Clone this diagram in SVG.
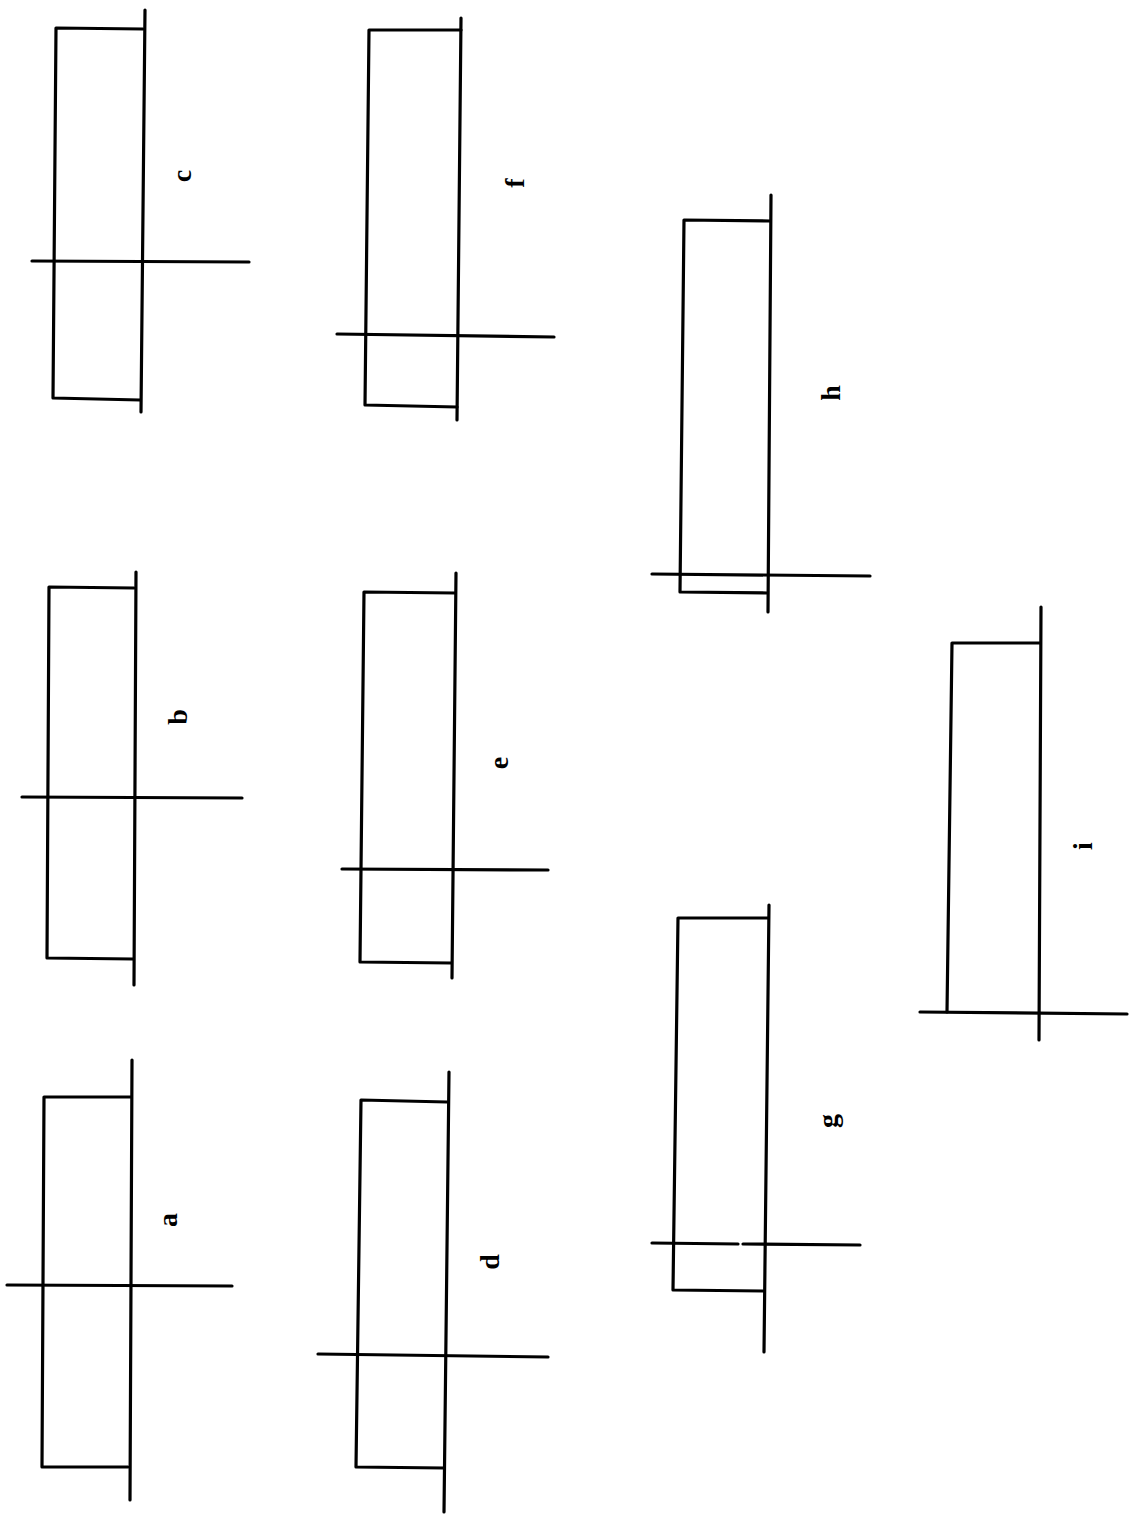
<svg xmlns="http://www.w3.org/2000/svg" width="1130" height="1517" viewBox="0 0 1130 1517">
<style>
.p{fill:none;stroke:#000;stroke-width:3.2;stroke-linejoin:round;stroke-linecap:round}
.l{font-family:"Liberation Serif",serif;font-weight:bold;font-size:28px;fill:#000;text-anchor:middle;dominant-baseline:central}
</style>
<rect width="1130" height="1517" fill="#fff"/>
<g id="a">
<polyline class="p" points="131,1097 44,1097 42,1467 128,1467"/>
<line class="p" x1="132" y1="1060" x2="130" y2="1500"/>
<line class="p" x1="7" y1="1285" x2="232" y2="1286"/>
<text class="l" transform="rotate(-90 167 1220)" x="167" y="1220">a</text>
</g>
<g id="b">
<polyline class="p" points="134,588 49,587 47,958 133,959"/>
<line class="p" x1="136" y1="572" x2="134" y2="985"/>
<line class="p" x1="22" y1="797" x2="242" y2="798"/>
<text class="l" transform="rotate(-90 177 717)" x="177" y="717">b</text>
</g>
<g id="c">
<polyline class="p" points="143,29 56,28 53,398 140,400"/>
<line class="p" x1="145" y1="10" x2="141" y2="412"/>
<line class="p" x1="32" y1="261" x2="249" y2="262"/>
<text class="l" transform="rotate(-90 181 176)" x="181" y="176">c</text>
</g>
<g id="d">
<polyline class="p" points="447,1102 361,1100 356,1467 444,1468"/>
<line class="p" x1="449" y1="1072" x2="444" y2="1512"/>
<line class="p" x1="318" y1="1354" x2="548" y2="1357"/>
<text class="l" transform="rotate(-90 489 1262)" x="489" y="1262">d</text>
</g>
<g id="e">
<polyline class="p" points="455,593 364,592 360,962 451,963"/>
<line class="p" x1="456" y1="573" x2="452" y2="978"/>
<line class="p" x1="342" y1="869" x2="548" y2="870"/>
<text class="l" transform="rotate(-90 498 763)" x="498" y="763">e</text>
</g>
<g id="f">
<polyline class="p" points="461,30 369,30 365,405 457,407"/>
<line class="p" x1="461" y1="18" x2="457" y2="420"/>
<line class="p" x1="337" y1="334" x2="554" y2="337"/>
<text class="l" transform="rotate(-90 514 183)" x="514" y="183">f</text>
</g>
<g id="g">
<polyline class="p" points="768,918 678,918 673,1290 763,1291"/>
<line class="p" x1="769" y1="905" x2="764" y2="1352"/>
<line class="p" x1="652" y1="1243" x2="738" y2="1244"/>
<line class="p" x1="743" y1="1244" x2="860" y2="1245"/>
<text class="l" transform="rotate(-90 827 1121)" x="827" y="1121">g</text>
</g>
<g id="h">
<polyline class="p" points="770,221 684,220 680,592 767,593"/>
<line class="p" x1="771" y1="195" x2="768" y2="612"/>
<line class="p" x1="652" y1="574" x2="870" y2="576"/>
<text class="l" transform="rotate(-90 830 393)" x="830" y="393">h</text>
</g>
<g id="i">
<polyline class="p" points="1040,643 952,643 947,1012"/>
<line class="p" x1="1041" y1="607" x2="1039" y2="1040"/>
<line class="p" x1="920" y1="1012" x2="1127" y2="1014"/>
<text class="l" transform="rotate(-90 1082 846)" x="1082" y="846">i</text>
</g>
<g id="connectors"></g>
</svg>
